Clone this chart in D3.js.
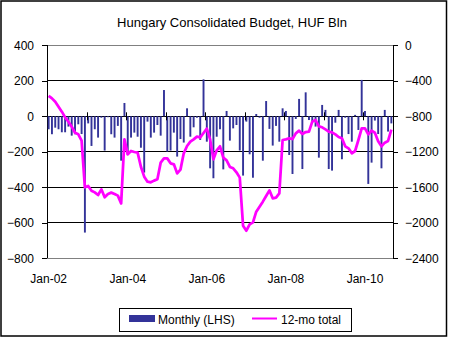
<!DOCTYPE html>
<html><head><meta charset="utf-8">
<script src="https://cdn.jsdelivr.net/npm/d3@7"></script>
<style>body{margin:0;background:#fff}svg{display:block}text{font-family:"Liberation Sans",Arial,sans-serif}</style>
</head><body><svg id="c" width="449" height="338"></svg>
<script>
const title = "Hungary Consolidated Budget, HUF Bln";
const monthNames = ["Jan","Feb","Mar","Apr","May","Jun","Jul","Aug","Sep","Oct","Nov","Dec"];
const yearLabels = ["02","03","04","05","06","07","08","09","10"];
const categories = yearLabels.flatMap(y => monthNames.map(m => m + "-" + y)).slice(0, 105);
const xTickLabels = ["Jan-02","Jan-04","Jan-06","Jan-08","Jan-10"];
const leftTicks = [400,200,0,-200,-400,-600,-800];
const rightTicks = [0,-400,-800,-1200,-1600,-2000,-2400];
const seriesNames = ["Monthly (LHS)","12-mo total"];
const monthly = [-73,-101,-64,-73,-90,-90,-58,-109,-101,-45,-100,-655,
 -40,-167,-73,-120,-8,-193,-5,-101,-120,-54,-250,75,
 -218,-120,-92,-115,-177,-317,-30,-120,-92,-49,-109,148,
 -199,-193,-92,-227,-128,-148,45,-115,-62,-8,-133,208,
 -143,-293,-349,-115,-73,-299,30,-137,-68,-49,-193,-334,
 -30,-214,-346,13,-8,-250,86,-71,-165,-54,-143,45,
 30,-218,-325,-15,98,-297,135,-21,-36,-58,-233,64,
 36,-297,-306,-36,36,-242,-8,-100,-143,8,-77,205,
 30,-381,-261,-24,-100,-293,36,-86,-40];
const total12 = [-571,-598,-635,-692,-748,-812,-861,-917,-985,-1003,-1075,-1600,
 -1585,-1638,-1657,-1687,-1623,-1713,-1675,-1660,-1675,-1694,-1781,-1060,
 -1229,-1191,-1202,-1210,-1368,-1480,-1537,-1544,-1525,-1510,-1322,-1274,
 -1274,-1330,-1341,-1443,-1401,-1217,-1135,-1086,-1060,-1029,-1037,-988,
 -939,-1060,-1285,-1183,-1138,-1266,-1296,-1371,-1386,-1431,-1491,-2033,
 -2089,-2017,-1995,-1875,-1818,-1762,-1698,-1634,-1724,-1717,-1668,-1067,
 -1060,-1048,-1056,-992,-962,-999,-977,-973,-860,-842,-913,-924,
 -947,-973,-981,-1003,-1033,-1048,-1138,-1161,-1217,-1191,-1067,-936,
 -936,-1003,-962,-985,-1082,-1138,-1097,-1078,-951];

const svg = d3.select("#c");
const L = 47, R = 393, T = 45.3, B = 258.3;
const x = d3.scaleBand().domain(categories).range([L, R]).paddingInner(0.42).paddingOuter(0.21);
const xs = d3.scaleBand().domain(categories).range([L, R]);
const yL = d3.scaleLinear().domain([-800, 400]).range([B, T]);
const yR = d3.scaleLinear().domain([-2400, 0]).range([B, T]);

svg.append("rect").attr("x",1).attr("y",1).attr("width",445.5).attr("height",335)
  .attr("fill","#fff").attr("stroke","#000").attr("stroke-width",1.5);

svg.append("text").attr("x",232).attr("y",27).attr("text-anchor","middle")
  .attr("font-size",13).attr("fill","#000").text(title);

// gridlines
svg.append("g").selectAll("line").data(leftTicks).join("line")
  .attr("x1",L).attr("x2",R).attr("y1",d=>yL(d)).attr("y2",d=>yL(d))
  .attr("stroke",d=>(d===400||d===-800)?"#808080":"#000").attr("stroke-width",1)
  .attr("shape-rendering","crispEdges");

// left axis
const ga = svg.append("g").attr("transform",`translate(${L},0)`)
  .call(d3.axisLeft(yL).tickValues(leftTicks).tickSize(5).tickPadding(8).tickFormat(d3.format("d")));
ga.select(".domain").remove();
ga.selectAll("line").attr("stroke","#000").attr("shape-rendering","crispEdges");
ga.selectAll("text").attr("font-size",12).attr("fill","#000").attr("font-family","Liberation Sans, Arial, sans-serif");
svg.append("line").attr("x1",L).attr("x2",L).attr("y1",T).attr("y2",B).attr("stroke","#000").attr("shape-rendering","crispEdges");

// right axis
const gr = svg.append("g").attr("transform",`translate(${R},0)`)
  .call(d3.axisRight(yR).tickValues(rightTicks).tickSize(5).tickPadding(7).tickFormat(d3.format("d")));
gr.select(".domain").remove();
gr.selectAll("line").attr("stroke","#000").attr("shape-rendering","crispEdges");
gr.selectAll("text").attr("font-size",12).attr("fill","#000").attr("font-family","Liberation Sans, Arial, sans-serif");
svg.append("line").attr("x1",R).attr("x2",R).attr("y1",T).attr("y2",B).attr("stroke","#000").attr("shape-rendering","crispEdges");

// bars
svg.append("g").selectAll("rect").data(monthly).join("rect")
  .attr("x",(d,i)=>x(categories[i]))
  .attr("width",x.bandwidth())
  .attr("y",d=>yL(Math.max(0,d)))
  .attr("height",d=>Math.abs(yL(d)-yL(0)))
  .attr("fill","#333399");

// x axis ticks at zero line (every 12 months)
const yearStarts = categories.filter((c,i)=>i>0 && i%12===0);
svg.append("g").selectAll("line").data(yearStarts).join("line")
  .attr("x1",d=>Math.round(xs(d))+0.5).attr("x2",d=>Math.round(xs(d))+0.5)
  .attr("y1",yL(0)-4).attr("y2",yL(0)+4).attr("stroke","#000");

// x labels
svg.append("g").selectAll("text").data(xTickLabels).join("text")
  .attr("x",d=>xs(d)+xs.bandwidth()/2).attr("y",283).attr("text-anchor","middle")
  .attr("font-size",12).attr("fill","#000").text(d=>d);

// line
const line = d3.line().x((d,i)=>xs(categories[i])+xs.bandwidth()/2).y(d=>yR(d));
svg.append("path").datum(total12).attr("d",line).attr("fill","none")
  .attr("stroke","#FF00FF").attr("stroke-width",2.75).attr("stroke-linejoin","round");

// legend
const lg = svg.append("g");
lg.append("rect").attr("x",119.5).attr("y",308.5).attr("width",232).attr("height",23)
  .attr("fill","#fff").attr("stroke","#000").attr("stroke-width",1);
lg.append("rect").attr("x",129).attr("y",315).attr("width",26).attr("height",7).attr("fill","#333399");
lg.append("text").attr("x",158).attr("y",324).attr("font-size",12).attr("fill","#000").text(seriesNames[0]);
lg.append("line").attr("x1",252).attr("x2",277).attr("y1",318.5).attr("y2",318.5)
  .attr("stroke","#FF00FF").attr("stroke-width",2);
lg.append("text").attr("x",281).attr("y",324).attr("font-size",12).attr("fill","#000").text(seriesNames[1]);
</script></body></html>
